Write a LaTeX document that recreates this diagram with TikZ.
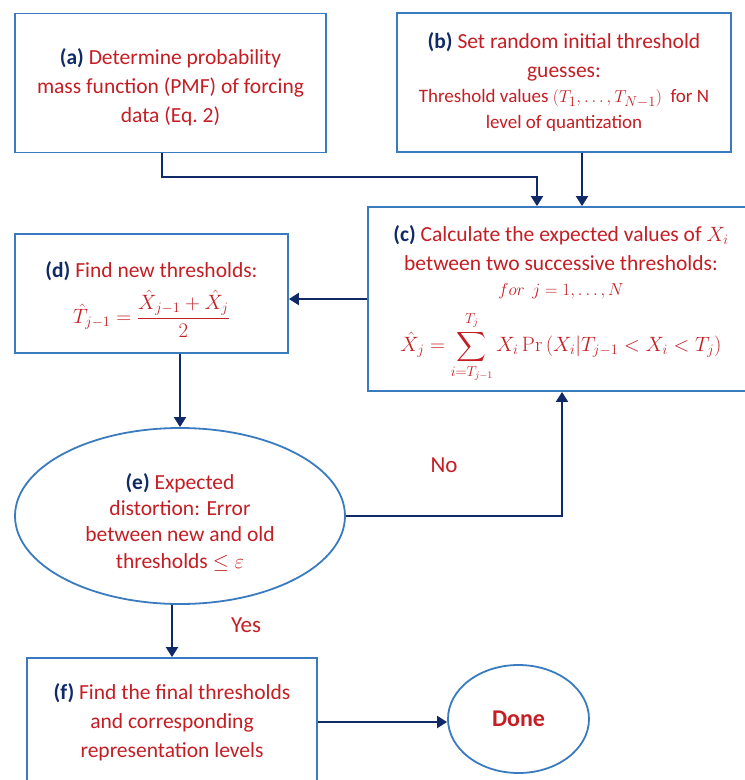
\documentclass[tikz,border=0pt]{standalone}
\usepackage{amsmath}
\usepackage[no-math]{fontspec}
\setmainfont{Carlito}
\usetikzlibrary{shapes.geometric,arrows.meta}
\definecolor{boxblue}{HTML}{3A7BBF}
\definecolor{navy}{HTML}{0F2A66}
\definecolor{txtred}{HTML}{C41E24}
\tikzset{
  shp/.style={draw=boxblue, line width=1.8pt, align=center, text=txtred, inner sep=0pt,
    font=\fontsize{21.5}{29}\selectfont},
  box/.style={shp, rectangle},
  conn/.style={draw=navy, line width=2pt},
  arr/.style={conn, -{Triangle[length=10pt,width=12pt]}},
  lbl/.style={text=txtred, font=\fontsize{23}{26}\selectfont}
}
\newcommand{\steptag}[1]{{\color{navy}\bfseries #1}}
\newcommand{\topstrut}[1]{\rule{0pt}{#1}}
\begin{document}
\begin{tikzpicture}[x=1pt,y=-1pt]
\useasboundingbox (0,0) rectangle (745,780);
% (a)
\node[box, minimum width=311pt, minimum height=139pt] (a) at (170.5,83)
  {\topstrut{24pt}\steptag{(a)} Determine probability\\ mass function (PMF) of forcing\\ data (Eq.~2)};
% (b)
\node[box, minimum width=334pt, minimum height=139pt] (b) at (564,82.5)
  {\steptag{(b)} Set random initial threshold\\ guesses:\\[-4pt]
   {\fontsize{19}{21}\selectfont Threshold values $(T_1,\dots,T_{N-1})$\ \ for N}\\[-3pt]
   {\fontsize{19}{21}\selectfont level of quantization}};
% (c)
\node[box, minimum width=386pt, minimum height=184pt] (c) at (561,299)
  {\topstrut{26pt}\steptag{(c)} Calculate the expected values of $X_i$\\
   between two successive thresholds:\\[-4pt]
   {\fontsize{19}{20}\selectfont $for\;\, j=1,\dots,N$}\\[12pt]
   {\fontsize{19.6}{22}\selectfont$\displaystyle \hat{X}_j=\sum_{i=T_{j-1}}^{T_j} X_i\,\mathrm{Pr}\,(X_i|T_{j-1}<X_i<T_j)$}};
% (d)
\node[box, minimum width=273pt, minimum height=119pt] (d) at (151.5,293.5)
  {\topstrut{28pt}\steptag{(d)} Find new thresholds:\\[8pt]
   {\fontsize{19.5}{22}\selectfont$\displaystyle \hat{T}_{j-1}=\frac{\hat{X}_{j-1}+\hat{X}_j}{2}$}};
% (e)
\node[shp, ellipse, minimum width=330pt, minimum height=176pt,
  font=\fontsize{21.5}{26.3}\selectfont] (e) at (180,516)
  {\topstrut{28pt}\steptag{(e)} Expected\\ distortion: Error\\ between new and old\\ thresholds $\leq \varepsilon$};
% (f)
\node[box, minimum width=290pt, minimum height=128pt] (f) at (172,722)
  {\steptag{(f)} Find the final thresholds\\ and corresponding\\ representation levels};
% Done
\node[shp, ellipse, minimum width=141pt, minimum height=108pt,
  font=\fontsize{24}{26}\selectfont\bfseries] (done) at (518.5,719) {Done};
% labels
\node[lbl] (no) at (444,465) {No};
\node[lbl] (yes) at (246,625) {Yes};
% connectors
\draw[arr] ([xshift=-8.5pt]a.south) -- ++(0,24) -| ([xshift=-24pt]c.north);
\draw[arr] ([xshift=18pt]b.south) -- ([xshift=18pt]b.south |- c.north);
\draw[arr] (c.west) -- (c.west -| d.east);
\draw[arr] (d.south -| e.north) -- (e.north);
\draw[arr] (e.east) -| ([xshift=1pt]c.south);
\draw[arr] (f.north |- e.south) -- (f.north);
\draw[arr] (f.east) -- (f.east -| done.west);
\end{tikzpicture}
\end{document}
